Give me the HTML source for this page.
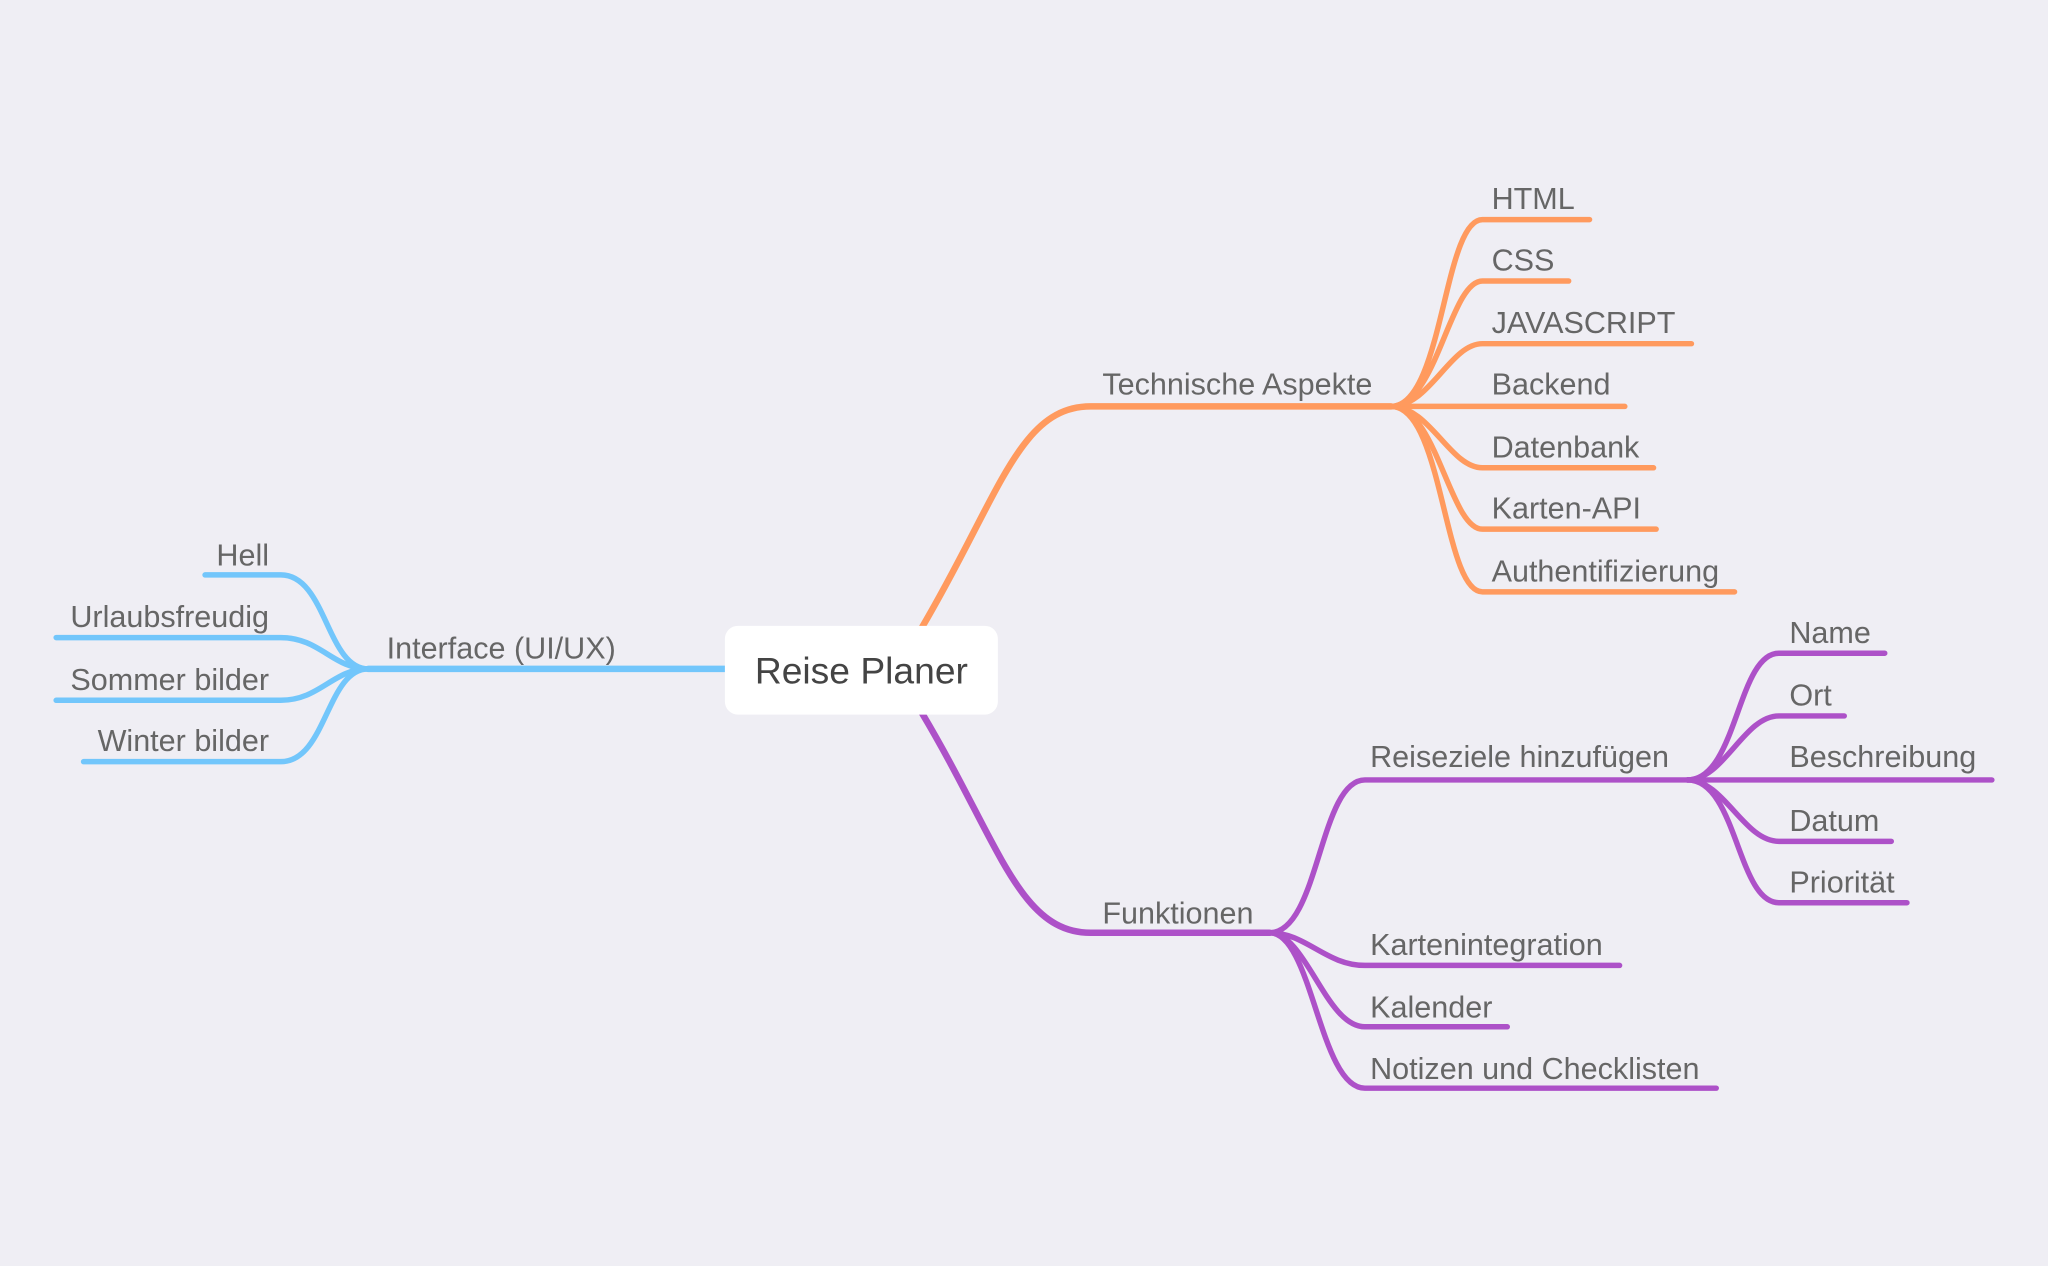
<!DOCTYPE html>
<html><head><meta charset="utf-8"><style>
html,body{margin:0;padding:0;background:#efeef4;}
svg{display:block;}
text{font-family:"Liberation Sans",Arial,sans-serif;fill:#666;font-size:23.4px;}
</style></head><body>
<svg width="2048" height="1266" viewBox="0 0 1568 969" xmlns="http://www.w3.org/2000/svg">
<rect width="1568" height="969" fill="#efeef4"/>
<g fill="none" stroke-linecap="round">
<g stroke="#ff9a5e" stroke-width="4.2">
<path d="M706,480 C765,380 780,311 835,311 L1065,311" stroke-width="5"/>
<path d="M1065,311 C1105,311 1105,168 1135,168 L1217,168"/>
<path d="M1065,311 C1100,311 1110,215 1135,215 L1201,215"/>
<path d="M1065,311 C1095,311 1110,263 1135,263 L1295,263"/>
<path d="M1065,311 L1244,311"/>
<path d="M1065,311 C1095,311 1110,358 1135,358 L1266,358"/>
<path d="M1065,311 C1100,311 1110,405 1135,405 L1268,405"/>
<path d="M1065,311 C1105,311 1105,453 1135,453 L1328,453"/>
</g>
<g stroke="#ad51c8" stroke-width="4.2">
<path d="M706,546 C765,645 780,714 835,714 L972,714" stroke-width="5"/>
<path d="M972,714 C1010,714 1010,597 1045,597 L1292,597"/>
<path d="M972,714 C1000,714 1015,739 1045,739 L1240,739"/>
<path d="M972,714 C1000,714 1015,786 1045,786 L1154,786"/>
<path d="M972,714 C1005,714 1010,833 1045,833 L1314,833"/>
<path d="M1292,597 C1330,597 1330,500 1362,500 L1443,500"/>
<path d="M1292,597 C1320,597 1335,548 1362,548 L1412,548"/>
<path d="M1292,597 L1525,597"/>
<path d="M1292,597 C1320,597 1335,644 1362,644 L1448,644"/>
<path d="M1292,597 C1330,597 1330,691 1362,691 L1460,691"/>
</g>
<g stroke="#72c6fb" stroke-width="4.2">
<path d="M555,512 L282,512" stroke-width="5"/>
<path d="M282,512 C250,512 250,440 215,440 L157,440"/>
<path d="M282,512 C255,512 245,488 215,488 L43,488"/>
<path d="M282,512 C255,512 245,536 215,536 L43,536"/>
<path d="M282,512 C250,512 250,583 215,583 L64,583"/>
</g>
</g>
<rect x="555" y="479" width="209" height="68" rx="10" fill="#fff"/>
<text x="659.5" y="523" text-anchor="middle" style="font-size:28.5px;fill:#444">Reise Planer</text>
<text x="844" y="302">Technische Aspekte</text>
<text x="1142" y="160">HTML</text>
<text x="1142" y="207">CSS</text>
<text x="1142" y="255">JAVASCRIPT</text>
<text x="1142" y="302">Backend</text>
<text x="1142" y="350">Datenbank</text>
<text x="1142" y="397">Karten-API</text>
<text x="1142" y="445">Authentifizierung</text>
<text x="844" y="707">Funktionen</text>
<text x="1049" y="587">Reiseziele hinzufügen</text>
<text x="1049" y="731">Kartenintegration</text>
<text x="1049" y="779">Kalender</text>
<text x="1049" y="826">Notizen und Checklisten</text>
<text x="1370" y="492">Name</text>
<text x="1370" y="540">Ort</text>
<text x="1370" y="587">Beschreibung</text>
<text x="1370" y="636">Datum</text>
<text x="1370" y="683">Priorität</text>
<text x="296" y="504">Interface (UI/UX)</text>
<text x="206" y="433" text-anchor="end">Hell</text>
<text x="206" y="480" text-anchor="end">Urlaubsfreudig</text>
<text x="206" y="528" text-anchor="end">Sommer bilder</text>
<text x="206" y="575" text-anchor="end">Winter bilder</text>
</svg>
</body></html>
